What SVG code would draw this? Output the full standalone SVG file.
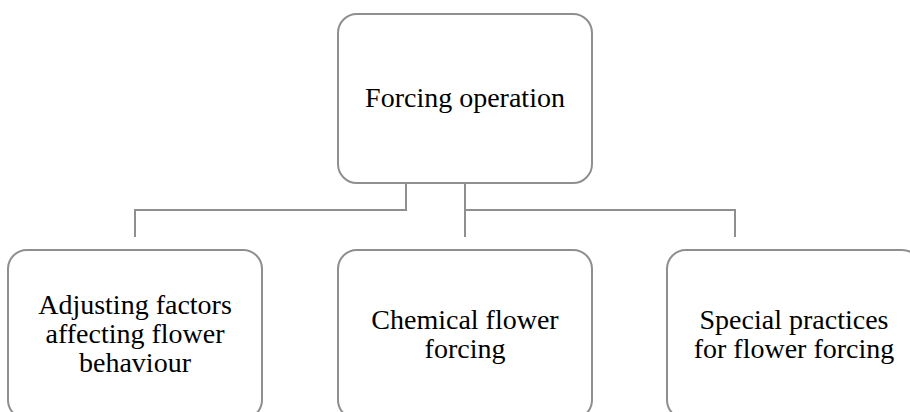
<svg xmlns="http://www.w3.org/2000/svg" width="910" height="412" viewBox="0 0 910 412">
<style>
.box{fill:#ffffff;stroke:#8f8f8f;stroke-width:2}
.lbl{font-family:"Liberation Serif","Times New Roman",serif;font-size:28px;fill:#000000;text-anchor:middle}
.conn{fill:none;stroke:#8f8f8f;stroke-width:2}
</style>
<rect width="910" height="412" fill="#ffffff"/>
<g id="connectors">
<polyline class="conn" points="406,183 406,210 135,210 135,237"/>
<polyline class="conn" points="465,183 465,237"/>
<polyline class="conn" points="465,210 735,210 735,237"/>
</g>
<g id="node-root">
<rect class="box" x="338" y="14" width="254" height="169" rx="19" ry="19"/>
<text class="lbl" x="465" y="107">Forcing operation</text>
</g>
<g id="node-adjusting">
<rect class="box" x="8" y="250" width="254" height="169" rx="19" ry="19"/>
<text class="lbl" x="135" y="314">Adjusting factors</text>
<text class="lbl" x="135" y="343">affecting flower</text>
<text class="lbl" x="135" y="372">behaviour</text>
</g>
<g id="node-chemical">
<rect class="box" x="338" y="250" width="254" height="169" rx="19" ry="19"/>
<text class="lbl" x="465" y="329">Chemical flower</text>
<text class="lbl" x="465" y="358">forcing</text>
</g>
<g id="node-special">
<rect class="box" x="667" y="250" width="254" height="169" rx="19" ry="19"/>
<text class="lbl" x="794" y="329">Special practices</text>
<text class="lbl" x="794" y="358">for flower forcing</text>
</g>
</svg>
